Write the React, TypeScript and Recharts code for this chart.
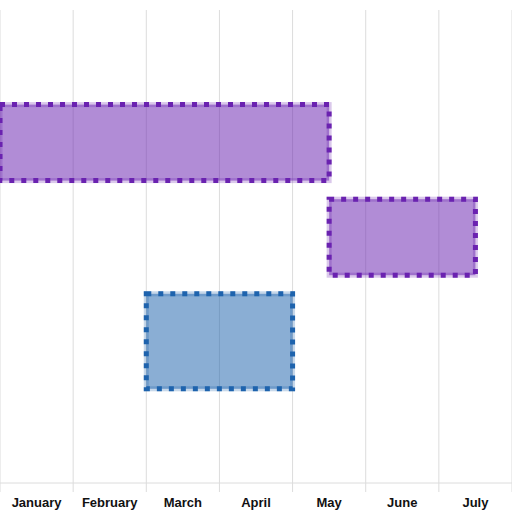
import React from "react";
import { BarChart, Bar, XAxis, YAxis, CartesianGrid } from "recharts";

const months = ["January", "February", "March", "April", "May", "June", "July"];
const rows = ["Row 1", "Row 2", "Row 3", "Row 4", "Row 5"];

// ranges in month units (0 = start of January)
const purpleStart = [null, 0, 4.5, null, null];
const purpleEnd = [null, 4.5, 6.5, null, null];
const blueStart = [null, null, null, 2, null];
const blueEnd = [null, null, null, 4, null];

const monthTicks = months.map((_, i) => i).concat(months.length);

const data = rows.map((row, i) => ({
  row,
  purple: purpleStart[i] != null ? [purpleStart[i], purpleEnd[i]] : null,
  blue: blueStart[i] != null ? [blueStart[i], blueEnd[i]] : null,
}));

const PURPLE = "#6a22b0";
const BLUE = "#1e63ad";
const GRID = "#dcdcdc";

// dotted-outline bar; ratio = share of the row band that the bar fills (top aligned)
const ganttShape = (color: string, ratio: number) => (props: any) => {
  const { x, y, width, height } = props;
  if (!width || !height) return <g />;
  const h = height * ratio;
  return (
    <g>
      <rect x={x} y={y} width={width} height={h} fill={color} fillOpacity={0.52} stroke={color} strokeOpacity={0.25} strokeWidth={5} />
      <rect x={x} y={y} width={width} height={h} fill="none" stroke={color} strokeWidth={5} strokeDasharray="5 7" />
    </g>
  );
};

// month name sits in the middle of its month, i.e. half a month right of the tick
const MonthTick = (props: any) => {
  const { x, y, payload, width } = props;
  const name = months[payload.value];
  if (!name) return <g />;
  const half = (width || 512) / (months.length * 2);
  return (
    <text
      x={x + half}
      y={y + 12.5}
      textAnchor="middle"
      fill="#111"
      fontSize={13}
      fontWeight="bold"
      fontFamily="Liberation Sans, Arial, sans-serif"
    >
      {name}
    </text>
  );
};

const App: React.FC = () => {
  return (
    <div style={{ position: "absolute", left: 0, top: 0, width: 512, height: 512, background: "#fff" }}>
      <BarChart
        width={512}
        height={512}
        data={data}
        layout="vertical"
        barCategoryGap={0}
        margin={{ top: 10, right: 0, bottom: 0, left: 0 }}
      >
        <CartesianGrid horizontal={false} stroke={GRID} xAxisId="m" yAxisId="p" />
        <XAxis
          xAxisId="m"
          type="number"
          domain={[0, months.length]}
          ticks={monthTicks}
          interval={0}
          tick={<MonthTick />}
          tickSize={9}
          tickMargin={2}
          height={29}
          axisLine={{ stroke: GRID }}
          tickLine={{ stroke: GRID }}
        />
        <YAxis yAxisId="p" type="category" dataKey="row" hide />
        <YAxis yAxisId="b" type="category" dataKey="row" hide />
        <Bar
          dataKey="purple"
          xAxisId="m"
          yAxisId="p"
          isAnimationActive={false}
          shape={ganttShape(PURPLE, 0.8)}
        />
        <Bar
          dataKey="blue"
          xAxisId="m"
          yAxisId="b"
          isAnimationActive={false}
          shape={ganttShape(BLUE, 1)}
        />
      </BarChart>
    </div>
  );
};

export default App;
